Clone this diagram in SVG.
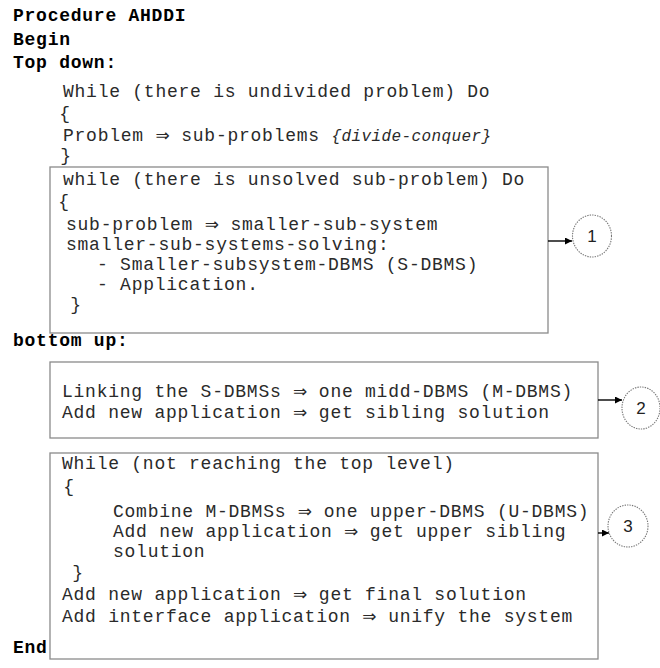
<svg xmlns="http://www.w3.org/2000/svg" width="660" height="668" viewBox="0 0 660 668">
<style>
.t{font-family:"Liberation Mono","DejaVu Sans Mono",monospace;font-size:18px;letter-spacing:0.75px;fill:#2a2a2a}
.b{font-weight:bold;fill:#000}
.i{font-family:"Liberation Mono","DejaVu Sans Mono",monospace;font-style:italic;font-size:16px;letter-spacing:0.4px;fill:#2a2a2a}
.ar{font-family:"DejaVu Sans",sans-serif;font-size:17px;letter-spacing:0}
.box{fill:none;stroke:#8a8a8a;stroke-width:1.3}
.c{fill:#fff;stroke:#777;stroke-width:1.1;stroke-dasharray:1.4 1.1}
.n{font-family:"Liberation Sans",Arial,sans-serif;font-size:17px;fill:#222;text-anchor:middle}
.a{stroke:#000;stroke-width:1.4;fill:none}
.m{text-anchor:middle}
</style>
<defs>
<marker id="ah" viewBox="0 0 10 10" refX="10" refY="5" markerWidth="7" markerHeight="7" markerUnits="userSpaceOnUse" orient="auto">
<path d="M0,0 L10,5 L0,10 z" fill="#000"/>
</marker>
</defs>
<rect width="660" height="668" fill="#fff"/>
<g id="header">
<text class="t b" x="13" y="21">Procedure AHDDI</text>
<text class="t b" x="13" y="45">Begin</text>
<text class="t b" x="13" y="68">Top down:</text>
<text class="t" x="63" y="97">While (there is undivided problem) Do</text>
<text class="t m" x="65" y="119">{</text>
<text class="t" x="63" y="141">Problem <tspan class="ar">⇒</tspan> sub-problems <tspan class="i">{divide-conquer}</tspan></text>
<text class="t m" x="66" y="161">}</text>
<text class="t b" x="13" y="346">bottom up:</text>
<text class="t b" x="13" y="653">End</text>
</g>
<g id="box1">
<rect class="box" x="50" y="167" width="498" height="166"/>
<text class="t" x="63" y="185">while (there is unsolved sub-problem) Do</text>
<text class="t m" x="64" y="207">{</text>
<text class="t" x="66" y="230">sub-problem <tspan class="ar">⇒</tspan> smaller-sub-system</text>
<text class="t" x="66" y="250">smaller-sub-systems-solving:</text>
<text class="t" x="97" y="270">- Smaller-subsystem-DBMS (S-DBMS)</text>
<text class="t" x="97" y="290">- Application.</text>
<text class="t m" x="76" y="310">}</text>
</g>
<g id="box2">
<rect class="box" x="50" y="362" width="548" height="76"/>
<text class="t" x="62" y="397">Linking the S-DBMSs <tspan class="ar">⇒</tspan> one midd-DBMS (M-DBMS)</text>
<text class="t" x="62" y="418">Add new application <tspan class="ar">⇒</tspan> get sibling solution</text>
</g>
<g id="box3">
<rect class="box" x="50" y="453" width="548" height="206"/>
<text class="t" x="62" y="469">While (not reaching the top level)</text>
<text class="t m" x="69" y="492">{</text>
<text class="t" x="113" y="517">Combine M-DBMSs <tspan class="ar">⇒</tspan> one upper-DBMS (U-DBMS)</text>
<text class="t" x="113" y="537">Add new application <tspan class="ar">⇒</tspan> get upper sibling</text>
<text class="t" x="113" y="557">solution</text>
<text class="t m" x="78" y="578">}</text>
<text class="t" x="62" y="600">Add new application <tspan class="ar">⇒</tspan> get final solution</text>
<text class="t" x="62" y="622">Add interface application <tspan class="ar">⇒</tspan> unify the system</text>
</g>
<g id="connectors">
<line class="a" x1="548" y1="241" x2="572" y2="241" marker-end="url(#ah)"/>
<line class="a" x1="598" y1="400" x2="622" y2="400" marker-end="url(#ah)"/>
<line class="a" x1="598" y1="533" x2="609" y2="533" marker-end="url(#ah)"/>
</g>
<g id="c1">
<ellipse class="c" cx="592" cy="236" rx="19.5" ry="21"/>
<text class="n" x="592" y="242">1</text>
</g>
<g id="c2">
<ellipse class="c" cx="641" cy="408" rx="19" ry="21"/>
<text class="n" x="641" y="414">2</text>
</g>
<g id="c3">
<ellipse class="c" cx="628" cy="526" rx="20" ry="21"/>
<text class="n" x="628" y="532">3</text>
</g>
</svg>
